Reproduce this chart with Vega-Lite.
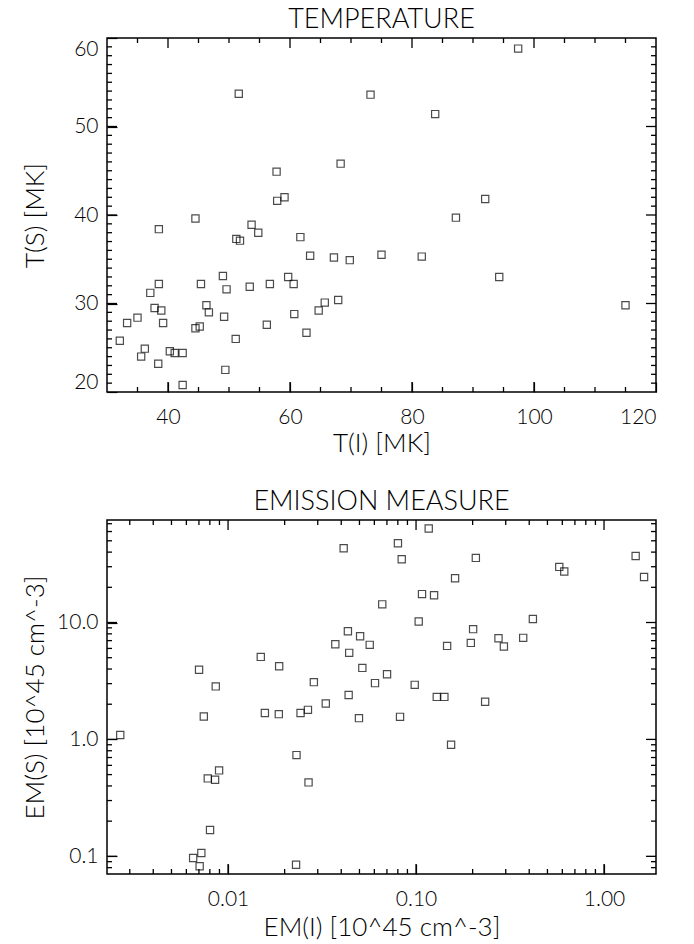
{
  "$schema": "https://vega.github.io/schema/vega-lite/v6.json",
  "padding": {"left": 21, "top": 5, "right": 5, "bottom": 5},
  "spacing": 30,
  "datasets": {
    "temp": [
      {"TI": 32.1, "TS": 25.8}, {"TI": 33.3, "TS": 27.8}, {"TI": 35.0, "TS": 28.4}, {"TI": 36.2, "TS": 24.9},
      {"TI": 35.6, "TS": 24.0}, {"TI": 37.1, "TS": 31.2}, {"TI": 37.8, "TS": 29.5}, {"TI": 38.5, "TS": 32.2},
      {"TI": 38.5, "TS": 38.4}, {"TI": 38.9, "TS": 29.2}, {"TI": 38.4, "TS": 23.2}, {"TI": 39.2, "TS": 27.8},
      {"TI": 40.3, "TS": 24.6}, {"TI": 41.1, "TS": 24.4}, {"TI": 42.4, "TS": 24.4}, {"TI": 42.4, "TS": 20.8},
      {"TI": 44.5, "TS": 27.2}, {"TI": 45.2, "TS": 27.4}, {"TI": 44.5, "TS": 39.6}, {"TI": 45.4, "TS": 32.2},
      {"TI": 46.3, "TS": 29.8}, {"TI": 46.7, "TS": 29.0}, {"TI": 49.0, "TS": 33.1}, {"TI": 49.6, "TS": 31.6},
      {"TI": 49.2, "TS": 28.5}, {"TI": 49.4, "TS": 22.5}, {"TI": 51.1, "TS": 26.0}, {"TI": 51.2, "TS": 37.3},
      {"TI": 51.8, "TS": 37.1}, {"TI": 51.6, "TS": 53.7}, {"TI": 53.4, "TS": 31.9}, {"TI": 53.7, "TS": 38.9},
      {"TI": 54.8, "TS": 38.0}, {"TI": 56.2, "TS": 27.6}, {"TI": 56.7, "TS": 32.2}, {"TI": 57.8, "TS": 44.9},
      {"TI": 57.9, "TS": 41.6}, {"TI": 59.1, "TS": 42.0}, {"TI": 59.7, "TS": 33.0}, {"TI": 60.6, "TS": 32.2},
      {"TI": 60.7, "TS": 28.8}, {"TI": 61.7, "TS": 37.5}, {"TI": 62.7, "TS": 26.7}, {"TI": 63.3, "TS": 35.4},
      {"TI": 64.7, "TS": 29.2}, {"TI": 65.7, "TS": 30.1}, {"TI": 67.2, "TS": 35.2}, {"TI": 67.9, "TS": 30.4},
      {"TI": 68.3, "TS": 45.8}, {"TI": 69.8, "TS": 34.9}, {"TI": 73.2, "TS": 53.6}, {"TI": 75.0, "TS": 35.5},
      {"TI": 97.4, "TS": 58.8}, {"TI": 83.8, "TS": 51.4}, {"TI": 92.0, "TS": 41.8}, {"TI": 87.2, "TS": 39.7},
      {"TI": 81.6, "TS": 35.3}, {"TI": 94.3, "TS": 33.0}, {"TI": 115.0, "TS": 29.8}
    ],
    "em": [
      {"EI": 0.00267, "ES": 1.09}, {"EI": 0.00701, "ES": 3.94}, {"EI": 0.0086, "ES": 2.84}, {"EI": 0.00743, "ES": 1.57},
      {"EI": 0.0078, "ES": 0.464}, {"EI": 0.00853, "ES": 0.452}, {"EI": 0.00896, "ES": 0.543}, {"EI": 0.00802, "ES": 0.168},
      {"EI": 0.00652, "ES": 0.0966}, {"EI": 0.00721, "ES": 0.1067}, {"EI": 0.00706, "ES": 0.0822}, {"EI": 0.01493, "ES": 5.08},
      {"EI": 0.0157, "ES": 1.68}, {"EI": 0.0187, "ES": 4.23}, {"EI": 0.01862, "ES": 1.645}, {"EI": 0.02313, "ES": 0.734},
      {"EI": 0.023, "ES": 0.0848}, {"EI": 0.0243, "ES": 1.68}, {"EI": 0.0266, "ES": 1.79}, {"EI": 0.0268, "ES": 0.429},
      {"EI": 0.0286, "ES": 3.09}, {"EI": 0.0331, "ES": 2.03}, {"EI": 0.0372, "ES": 6.52}, {"EI": 0.0412, "ES": 43.2},
      {"EI": 0.0434, "ES": 8.43}, {"EI": 0.0441, "ES": 5.5}, {"EI": 0.0438, "ES": 2.4}, {"EI": 0.0504, "ES": 7.64},
      {"EI": 0.0567, "ES": 6.44}, {"EI": 0.0518, "ES": 4.09}, {"EI": 0.0497, "ES": 1.52}, {"EI": 0.0605, "ES": 3.03},
      {"EI": 0.0661, "ES": 14.3}, {"EI": 0.0701, "ES": 3.61}, {"EI": 0.0801, "ES": 47.6}, {"EI": 0.0839, "ES": 34.8},
      {"EI": 0.0822, "ES": 1.56}, {"EI": 0.0984, "ES": 2.93}, {"EI": 0.1033, "ES": 10.2}, {"EI": 0.1076, "ES": 17.5},
      {"EI": 0.1168, "ES": 63.6}, {"EI": 0.1247, "ES": 17.1}, {"EI": 0.1289, "ES": 2.31}, {"EI": 0.1415, "ES": 2.31},
      {"EI": 0.1463, "ES": 6.31}, {"EI": 0.1536, "ES": 0.9}, {"EI": 0.1613, "ES": 23.9}, {"EI": 0.1956, "ES": 6.69},
      {"EI": 0.2012, "ES": 8.77}, {"EI": 0.208, "ES": 35.7}, {"EI": 0.2331, "ES": 2.1}, {"EI": 0.2745, "ES": 7.34},
      {"EI": 0.2933, "ES": 6.24}, {"EI": 0.3715, "ES": 7.39}, {"EI": 0.4183, "ES": 10.7}, {"EI": 0.578, "ES": 29.9},
      {"EI": 0.6145, "ES": 27.3}, {"EI": 1.473, "ES": 37.1}, {"EI": 1.633, "ES": 24.5}
    ],
    "tempXTicks": [
      {"v": 35, "k": "minor"}, {"v": 40, "k": "major"}, {"v": 45, "k": "minor"}, {"v": 50, "k": "minor"}, {"v": 55, "k": "minor"},
      {"v": 60, "k": "major"}, {"v": 65, "k": "minor"}, {"v": 70, "k": "minor"}, {"v": 75, "k": "minor"}, {"v": 80, "k": "major"},
      {"v": 85, "k": "minor"}, {"v": 90, "k": "minor"}, {"v": 95, "k": "minor"}, {"v": 100, "k": "major"}, {"v": 105, "k": "minor"},
      {"v": 110, "k": "minor"}, {"v": 115, "k": "minor"}
    ],
    "tempYTicks": [
      {"v": 21, "k": "minor"}, {"v": 22, "k": "minor"}, {"v": 23, "k": "minor"}, {"v": 24, "k": "minor"}, {"v": 25, "k": "minor"},
      {"v": 26, "k": "minor"}, {"v": 27, "k": "minor"}, {"v": 28, "k": "minor"}, {"v": 29, "k": "minor"}, {"v": 30, "k": "major"},
      {"v": 31, "k": "minor"}, {"v": 32, "k": "minor"}, {"v": 33, "k": "minor"}, {"v": 34, "k": "minor"}, {"v": 35, "k": "minor"},
      {"v": 36, "k": "minor"}, {"v": 37, "k": "minor"}, {"v": 38, "k": "minor"}, {"v": 39, "k": "minor"}, {"v": 40, "k": "major"},
      {"v": 41, "k": "minor"}, {"v": 42, "k": "minor"}, {"v": 43, "k": "minor"}, {"v": 44, "k": "minor"}, {"v": 45, "k": "minor"},
      {"v": 46, "k": "minor"}, {"v": 47, "k": "minor"}, {"v": 48, "k": "minor"}, {"v": 49, "k": "minor"}, {"v": 50, "k": "major"},
      {"v": 51, "k": "minor"}, {"v": 52, "k": "minor"}, {"v": 53, "k": "minor"}, {"v": 54, "k": "minor"}, {"v": 55, "k": "minor"},
      {"v": 56, "k": "minor"}, {"v": 57, "k": "minor"}, {"v": 58, "k": "minor"}, {"v": 59, "k": "minor"}
    ],
    "emXTicks": [
      {"v": 0.003, "k": "minor"}, {"v": 0.004, "k": "minor"}, {"v": 0.005, "k": "minor"}, {"v": 0.006, "k": "minor"},
      {"v": 0.007, "k": "minor"}, {"v": 0.008, "k": "minor"}, {"v": 0.009, "k": "minor"}, {"v": 0.01, "k": "major"},
      {"v": 0.02, "k": "minor"}, {"v": 0.03, "k": "minor"}, {"v": 0.04, "k": "minor"}, {"v": 0.05, "k": "minor"},
      {"v": 0.06, "k": "minor"}, {"v": 0.07, "k": "minor"}, {"v": 0.08, "k": "minor"}, {"v": 0.09, "k": "minor"},
      {"v": 0.1, "k": "major"}, {"v": 0.2, "k": "minor"}, {"v": 0.3, "k": "minor"}, {"v": 0.4, "k": "minor"},
      {"v": 0.5, "k": "minor"}, {"v": 0.6, "k": "minor"}, {"v": 0.7, "k": "minor"}, {"v": 0.8, "k": "minor"},
      {"v": 0.9, "k": "minor"}, {"v": 1, "k": "major"}
    ],
    "emYTicks": [
      {"v": 0.08, "k": "minor"}, {"v": 0.09, "k": "minor"}, {"v": 0.1, "k": "major"}, {"v": 0.2, "k": "minor"},
      {"v": 0.3, "k": "minor"}, {"v": 0.4, "k": "minor"}, {"v": 0.5, "k": "minor"}, {"v": 0.6, "k": "minor"},
      {"v": 0.7, "k": "minor"}, {"v": 0.8, "k": "minor"}, {"v": 0.9, "k": "minor"}, {"v": 1, "k": "major"},
      {"v": 2, "k": "minor"}, {"v": 3, "k": "minor"}, {"v": 4, "k": "minor"}, {"v": 5, "k": "minor"},
      {"v": 6, "k": "minor"}, {"v": 7, "k": "minor"}, {"v": 8, "k": "minor"}, {"v": 9, "k": "minor"},
      {"v": 10, "k": "major"}, {"v": 20, "k": "minor"}, {"v": 30, "k": "minor"}, {"v": 40, "k": "minor"},
      {"v": 50, "k": "minor"}, {"v": 60, "k": "minor"}, {"v": 70, "k": "minor"}
    ]
  },
  "vconcat": [
    {
      "title": {"text": "TEMPERATURE", "offset": 3},
      "width": 549,
      "height": 354,
      "layer": [
        {
          "data": {"name": "temp"},
          "mark": {"type": "point", "shape": "square", "filled": false, "color": "black", "size": 52, "strokeWidth": 1.2},
          "encoding": {
            "x": {"field": "TI", "type": "quantitative", "scale": {"domain": [30, 120], "nice": false, "zero": false},
                  "axis": {"orient": "bottom", "values": [40, 60, 80, 100, 120], "offset": -10, "tickSize": 10, "labelPadding": 14, "title": "T(I) [MK]", "titleAlign": "center", "titleX": 274.5, "titleY": 48}},
            "y": {"field": "TS", "type": "quantitative", "scale": {"domain": [20, 60], "nice": false, "zero": false},
                  "axis": {"orient": "left", "values": [20, 30, 40, 50, 60], "offset": -10, "tickSize": 10, "labelPadding": 9, "labelFlush": true, "title": "T(S) [MK]", "titleAlign": "center", "titleX": -69, "titleY": 177}}
          }
        },
        {
          "data": {"name": "tempXTicks"}, "transform": [{"filter": "datum.k == 'major'"}],
          "mark": {"type": "rule", "color": "black", "strokeWidth": 1.3},
          "encoding": {"x": {"field": "v", "type": "quantitative", "axis": null}, "y": {"datum": 20, "type": "quantitative", "axis": null}, "y2": {"datum": 21.13}}
        },
        {
          "data": {"name": "tempXTicks"}, "transform": [{"filter": "datum.k == 'minor'"}],
          "mark": {"type": "rule", "color": "black", "strokeWidth": 1.3},
          "encoding": {"x": {"field": "v", "type": "quantitative", "axis": null}, "y": {"datum": 20, "type": "quantitative", "axis": null}, "y2": {"datum": 20.565}}
        },
        {
          "data": {"name": "tempXTicks"}, "transform": [{"filter": "datum.k == 'major'"}],
          "mark": {"type": "rule", "color": "black", "strokeWidth": 1.3},
          "encoding": {"x": {"field": "v", "type": "quantitative", "axis": null}, "y": {"datum": 60, "type": "quantitative", "axis": null}, "y2": {"datum": 58.87}}
        },
        {
          "data": {"name": "tempXTicks"}, "transform": [{"filter": "datum.k == 'minor'"}],
          "mark": {"type": "rule", "color": "black", "strokeWidth": 1.3},
          "encoding": {"x": {"field": "v", "type": "quantitative", "axis": null}, "y": {"datum": 60, "type": "quantitative", "axis": null}, "y2": {"datum": 59.435}}
        },
        {
          "data": {"name": "tempYTicks"}, "transform": [{"filter": "datum.k == 'major'"}],
          "mark": {"type": "rule", "color": "black", "strokeWidth": 1.3},
          "encoding": {"y": {"field": "v", "type": "quantitative", "axis": null}, "x": {"datum": 30, "type": "quantitative", "axis": null}, "x2": {"datum": 31.64}}
        },
        {
          "data": {"name": "tempYTicks"}, "transform": [{"filter": "datum.k == 'minor'"}],
          "mark": {"type": "rule", "color": "black", "strokeWidth": 1.3},
          "encoding": {"y": {"field": "v", "type": "quantitative", "axis": null}, "x": {"datum": 30, "type": "quantitative", "axis": null}, "x2": {"datum": 30.82}}
        },
        {
          "data": {"name": "tempYTicks"}, "transform": [{"filter": "datum.k == 'major'"}],
          "mark": {"type": "rule", "color": "black", "strokeWidth": 1.3},
          "encoding": {"y": {"field": "v", "type": "quantitative", "axis": null}, "x": {"datum": 120, "type": "quantitative", "axis": null}, "x2": {"datum": 118.36}}
        },
        {
          "data": {"name": "tempYTicks"}, "transform": [{"filter": "datum.k == 'minor'"}],
          "mark": {"type": "rule", "color": "black", "strokeWidth": 1.3},
          "encoding": {"y": {"field": "v", "type": "quantitative", "axis": null}, "x": {"datum": 120, "type": "quantitative", "axis": null}, "x2": {"datum": 119.18}}
        }
      ],
      "resolve": {"axis": {"x": "independent", "y": "independent"}}
    },
    {
      "title": {"text": "EMISSION MEASURE", "offset": 3},
      "width": 549,
      "height": 354,
      "layer": [
        {
          "data": {"name": "em"},
          "mark": {"type": "point", "shape": "square", "filled": false, "color": "black", "size": 52, "strokeWidth": 1.2},
          "encoding": {
            "x": {"field": "EI", "type": "quantitative", "scale": {"type": "log", "domain": [0.00227, 1.89], "nice": false},
                  "axis": {"orient": "bottom", "values": [0.01, 0.1, 1], "format": ".2f", "offset": -10, "tickSize": 10, "labelPadding": 14, "title": "EM(I) [10^45 cm^-3]", "titleAlign": "center", "titleX": 274.5, "titleY": 50}},
            "y": {"field": "ES", "type": "quantitative", "scale": {"type": "log", "domain": [0.0706, 75.3], "nice": false},
                  "axis": {"orient": "left", "values": [0.1, 1, 10], "format": ".1f", "offset": -10, "tickSize": 10, "labelPadding": 9, "title": "EM(S) [10^45 cm^-3]", "titleAlign": "center", "titleX": -69, "titleY": 177}}
          }
        },
        {
          "data": {"name": "emXTicks"}, "transform": [{"filter": "datum.k == 'major'"}],
          "mark": {"type": "rule", "color": "black", "strokeWidth": 1.3},
          "encoding": {"x": {"field": "v", "type": "quantitative", "axis": null}, "y": {"datum": 0.0706, "type": "quantitative", "axis": null}, "y2": {"datum": 0.086}}
        },
        {
          "data": {"name": "emXTicks"}, "transform": [{"filter": "datum.k == 'minor'"}],
          "mark": {"type": "rule", "color": "black", "strokeWidth": 1.3},
          "encoding": {"x": {"field": "v", "type": "quantitative", "axis": null}, "y": {"datum": 0.0706, "type": "quantitative", "axis": null}, "y2": {"datum": 0.0779}}
        },
        {
          "data": {"name": "emXTicks"}, "transform": [{"filter": "datum.k == 'major'"}],
          "mark": {"type": "rule", "color": "black", "strokeWidth": 1.3},
          "encoding": {"x": {"field": "v", "type": "quantitative", "axis": null}, "y": {"datum": 75.3, "type": "quantitative", "axis": null}, "y2": {"datum": 61.83}}
        },
        {
          "data": {"name": "emXTicks"}, "transform": [{"filter": "datum.k == 'minor'"}],
          "mark": {"type": "rule", "color": "black", "strokeWidth": 1.3},
          "encoding": {"x": {"field": "v", "type": "quantitative", "axis": null}, "y": {"datum": 75.3, "type": "quantitative", "axis": null}, "y2": {"datum": 68.24}}
        },
        {
          "data": {"name": "emYTicks"}, "transform": [{"filter": "datum.k == 'major'"}],
          "mark": {"type": "rule", "color": "black", "strokeWidth": 1.3},
          "encoding": {"y": {"field": "v", "type": "quantitative", "axis": null}, "x": {"datum": 0.00227, "type": "quantitative", "axis": null}, "x2": {"datum": 0.002566}}
        },
        {
          "data": {"name": "emYTicks"}, "transform": [{"filter": "datum.k == 'minor'"}],
          "mark": {"type": "rule", "color": "black", "strokeWidth": 1.3},
          "encoding": {"y": {"field": "v", "type": "quantitative", "axis": null}, "x": {"datum": 0.00227, "type": "quantitative", "axis": null}, "x2": {"datum": 0.002413}}
        },
        {
          "data": {"name": "emYTicks"}, "transform": [{"filter": "datum.k == 'major'"}],
          "mark": {"type": "rule", "color": "black", "strokeWidth": 1.3},
          "encoding": {"y": {"field": "v", "type": "quantitative", "axis": null}, "x": {"datum": 1.89, "type": "quantitative", "axis": null}, "x2": {"datum": 1.6723}}
        },
        {
          "data": {"name": "emYTicks"}, "transform": [{"filter": "datum.k == 'minor'"}],
          "mark": {"type": "rule", "color": "black", "strokeWidth": 1.3},
          "encoding": {"y": {"field": "v", "type": "quantitative", "axis": null}, "x": {"datum": 1.89, "type": "quantitative", "axis": null}, "x2": {"datum": 1.7778}}
        }
      ],
      "resolve": {"axis": {"x": "independent", "y": "independent"}}
    }
  ],
  "config": {
    "font": "Lato",
    "view": {"stroke": "black", "strokeWidth": 1.5},
    "axis": {"domain": false, "grid": false, "ticks": true, "tickColor": "black", "tickWidth": 1.2, "labelColor": "black", "titleColor": "black",
             "labelFont": "Lato", "labelFontWeight": 300, "labelFontSize": 21, "titleFont": "Lato", "titleFontSize": 26, "titleFontWeight": 300},
    "title": {"font": "Lato", "fontSize": 27, "fontWeight": 300, "color": "black"}
  }
}
